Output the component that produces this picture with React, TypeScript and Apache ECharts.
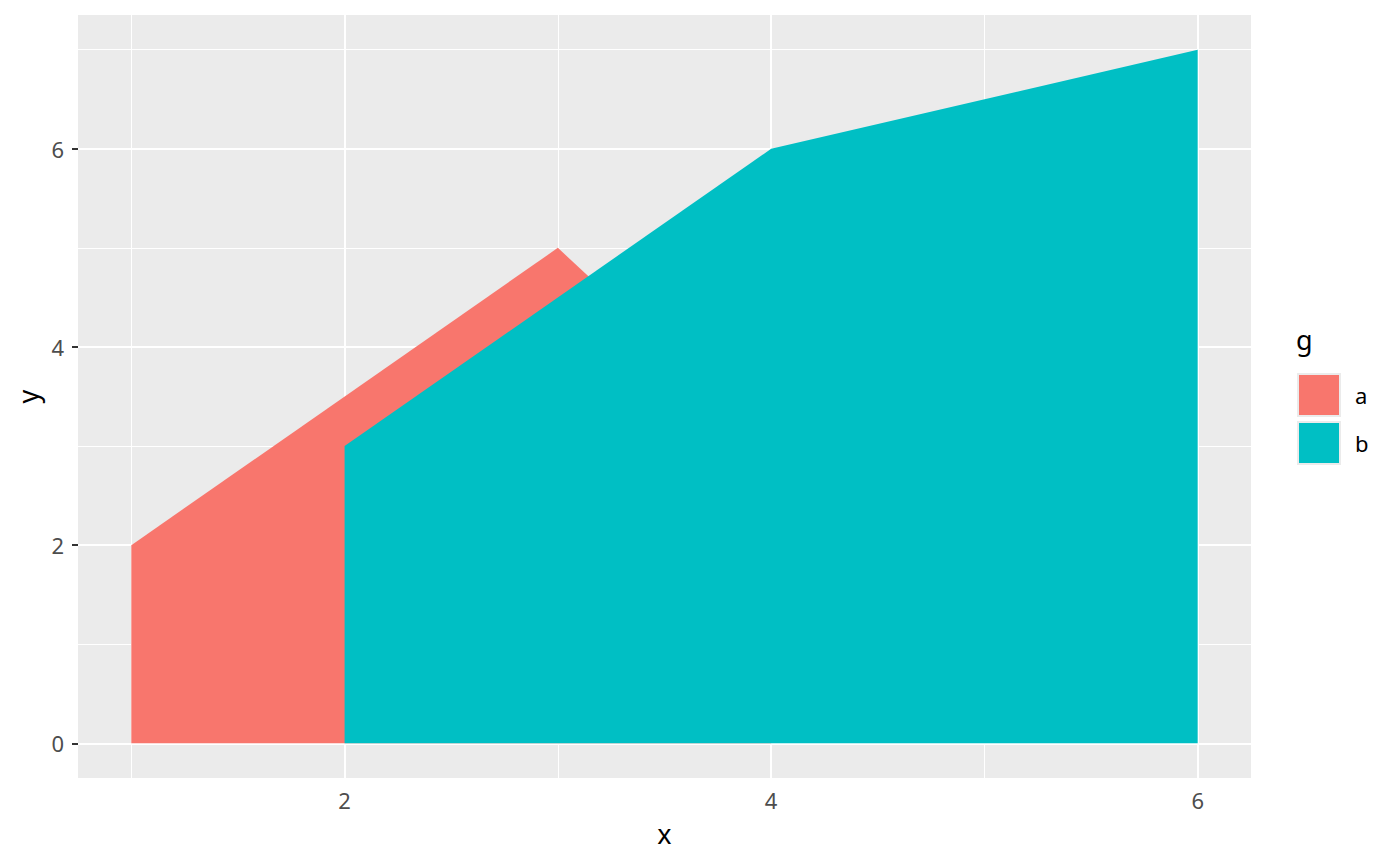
import React, { useRef, useEffect } from 'react'
import * as echarts from 'echarts'

// data
const groups = ['a', 'b']
const xA = [1, 3, 4]
const yA = [2, 5, 3]
const xB = [2, 4, 6]
const yB = [3, 6, 7]
const colors = ['#F8766D', '#00BFC4']

// axis ticks
const xTicks = [2, 4, 6]
const yTicks = [0, 2, 4, 6]
const xMinor = [1, 3, 5]
const yMinor = [1, 3, 5, 7]

const FONT = '"Noto Sans", "Open Sans", sans-serif'

const App: React.FC = () => {
  const chartRef = useRef<HTMLDivElement>(null)

  useEffect(() => {
    document.body.style.margin = '0'
    if (!chartRef.current) return
    const chart = echarts.init(chartRef.current, undefined, { renderer: 'svg' })

    const gridLine = (vals: number[], key: 'xAxis' | 'yAxis', width: number) =>
      vals.map((v) => ({ [key]: v, lineStyle: { width } }))

    const option = {
      animation: false,
      backgroundColor: '#FFFFFF',
      grid: {
        left: 78,
        right: 149,
        top: 15,
        bottom: 88,
        show: true,
        backgroundColor: '#EBEBEB',
        borderWidth: 0,
      },
      xAxis: {
        type: 'value',
        min: 0.75,
        max: 6.25,
        name: 'x',
        nameLocation: 'middle',
        nameGap: 42,
        nameTextStyle: { color: '#000', fontSize: 27, fontFamily: FONT },
        axisLine: { show: false },
        splitLine: { show: false },
        axisTick: {
          show: true,
          length: 6,
          customValues: xTicks,
          lineStyle: { color: '#333333', width: 2 },
        },
        axisLabel: {
          customValues: xTicks,
          margin: 11,
          color: '#4D4D4D',
          fontSize: 22,
          fontFamily: FONT,
        },
      },
      yAxis: {
        type: 'value',
        min: -0.35,
        max: 7.35,
        name: 'y',
        nameLocation: 'middle',
        nameGap: 36,
        nameTextStyle: { color: '#000', fontSize: 27, fontFamily: FONT },
        axisLine: { show: false },
        splitLine: { show: false },
        axisTick: {
          show: true,
          length: 6,
          customValues: yTicks,
          lineStyle: { color: '#333333', width: 2 },
        },
        axisLabel: {
          customValues: yTicks,
          margin: 14,
          color: '#4D4D4D',
          fontSize: 22,
          fontFamily: FONT,
        },
      },
      legend: {
        data: groups,
        orient: 'vertical',
        left: 1297,
        top: 373,
        padding: 0,
        icon: 'rect',
        itemWidth: 42,
        itemHeight: 42,
        itemGap: 4,
        itemStyle: { borderColor: '#EBEBEB', borderWidth: 2 },
        textStyle: { color: '#000', fontSize: 22, fontFamily: FONT, padding: [0, 0, 0, 10] },
        selectedMode: false,
      },
      graphic: [
        {
          type: 'text',
          left: 1296,
          top: 326,
          style: { text: 'g', fill: '#000', fontSize: 27, fontFamily: FONT },
        },
      ],
      series: [
        {
          type: 'line',
          name: 'grid',
          data: [],
          z: 1,
          silent: true,
          markLine: {
            z: 1,
            silent: true,
            symbol: ['none', 'none'],
            label: { show: false },
            lineStyle: { color: '#FFFFFF', type: 'solid' },
            data: [
              ...gridLine(xMinor, 'xAxis', 1),
              ...gridLine(yMinor, 'yAxis', 1),
              ...gridLine(xTicks, 'xAxis', 2),
              ...gridLine(yTicks, 'yAxis', 2),
            ],
          },
        },
        {
          type: 'line',
          name: groups[0],
          z: 2,
          data: xA.map((x, i) => [x, yA[i]]),
          showSymbol: false,
          symbol: 'none',
          color: colors[0],
          lineStyle: { width: 0 },
          areaStyle: { color: colors[0], opacity: 1 },
        },
        {
          type: 'line',
          name: groups[1],
          z: 3,
          data: xB.map((x, i) => [x, yB[i]]),
          showSymbol: false,
          symbol: 'none',
          color: colors[1],
          lineStyle: { width: 0 },
          areaStyle: { color: colors[1], opacity: 1 },
        },
      ],
    }

    chart.setOption(option)
    return () => {
      chart.dispose()
    }
  }, [])

  return <div ref={chartRef} style={{ width: 1400, height: 866 }} />
}

export default App
